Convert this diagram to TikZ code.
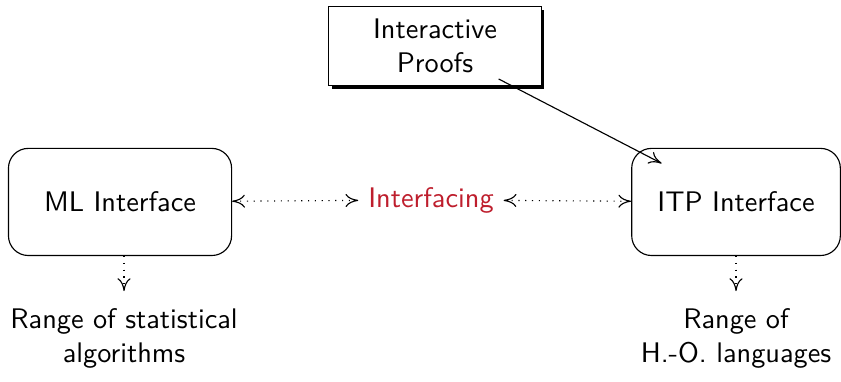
\documentclass[tikz,border=0pt]{standalone}
\usetikzlibrary{shadows,arrows.meta}
\definecolor{linkred}{RGB}{190,30,45}

\begin{document}
\begin{tikzpicture}[font=\sffamily, >={To[length=4.5pt,width=4.6pt]},
    roundbox/.style={draw, rounded corners=7pt, align=center, minimum height=1.33cm},
    shadowbox/.style={draw, fill=white, align=center, minimum width=2.64cm, minimum height=0.98cm,
        drop shadow={shadow xshift=1.1pt, shadow yshift=-1.1pt, opacity=1, fill=black}},
    link/.style={<->, dotted},
    down/.style={->, dotted, shorten >=2.5pt}]
    \useasboundingbox (0,0) rectangle (10.44,4.742);

    % Boxes
    \node[shadowbox] (ip) at (5.40,4.171) {Interactive\\Proofs};
    \node[roundbox, minimum width=2.77cm] (ml) at (1.49,2.235) {ML Interface};
    \node[roundbox, minimum width=2.59cm] (itp) at (9.137,2.235) {ITP Interface};

    % Middle label
    \node[text=linkred] (mid) at (5.35,2.26) {Interfacing};

    % Ranges below the boxes
    \node[align=center] (mlrange) at (1.54,0.546) {Range of statistical\\algorithms};
    \node[align=center] (itprange) at (9.137,0.546) {Range of\\H.-O. languages};

    % Connections
    \draw[link] (ml) -- (mid);
    \draw[link] (mid) -- (itp);
    \draw[->, shorten <=0.89cm, shorten >=1.04cm] (ip.center) -- (itp.center);
    \draw[down] (ml.south -| mlrange) -- (mlrange);
    \draw[down] (itp) -- (itprange);

\end{tikzpicture}
\end{document}
